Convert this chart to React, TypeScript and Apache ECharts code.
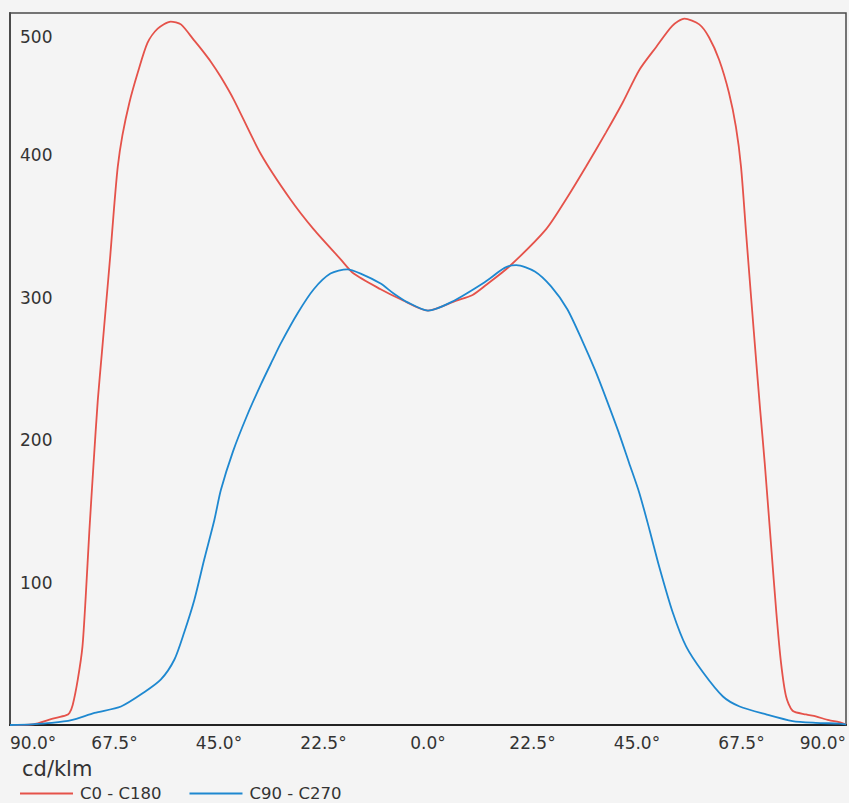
import React, { useEffect, useRef } from "react";
import * as echarts from "echarts";

// C0 - C180 (red)
const redAngles = [
  -90, -85, -81, -78, -77.2, -76.5, -75.4, -74.4, -73.7, -72.9, -72, -71.1, -70.2, -69.3, -68.4, -67.6,
  -66.8, -65.8, -64.3, -62.5, -60.4, -58.2, -55.4, -53.2, -50.4, -48.9, -46.8, -44.6, -41.8, -36, -29.6,
  -24.6, -18.8, -16, -10.2, -5.9, 0, 6.1, 9.6, 12.5, 17.5, 25.4, 29.7, 34, 38.3, 41.9, 45.5, 49.1,
  52.6, 55.2, 58.4, 60.5, 62.7, 64.8, 66.3, 67.4, 68.5, 69.6, 70.7, 71.5, 72.5, 73.9, 75, 76, 77.1,
  78.5, 81.4, 83.5, 86.3, 88.5, 90,
];
const redValues = [
  0, 0.5, 4.3, 6.7, 8.5, 14, 32, 55, 90, 137, 184, 228, 262, 296, 330, 363,
  392, 414, 437, 458, 479, 489, 494, 492, 481, 475, 466, 455, 439, 401, 369,
  348, 327, 317, 306, 299, 291, 298, 302, 309, 322, 348, 369, 392, 416, 437, 460, 476,
  491, 496, 492, 483, 467, 444, 420, 392, 345, 299, 254, 222, 184, 125, 79, 44, 20,
  10, 7.4, 6, 3.4, 2, 0.5,
];

// C90 - C270 (blue)
const blueAngles = [
  -90, -85.4, -81, -76.8, -71.8, -66.1, -61.1, -57.5, -54.6, -52.5, -50.3, -48.2, -46, -44.6, -42,
  -39, -36, -33.5, -31.7, -28.1, -24.6, -21, -17.4, -14.5, -10.2, -7.4, -4.5, 0, 5, 12.2, 16.5, 19,
  23, 26.5, 30, 33.2, 36, 38.5, 41, 43.3, 45.5, 47.7, 49.8, 52.7, 55.6, 59.2, 63.5, 67.1, 72.8, 78.5,
  83.5, 88.5, 90,
];
const blueValues = [
  0, 0.5, 1.5, 3.4, 8.5, 13, 23, 32, 46, 65, 88, 116, 144, 165, 192,
  217, 239, 256, 268, 289, 306, 317, 320, 317, 310, 303, 297, 291, 297, 311, 321, 323,
  318.5, 308, 292, 270, 249, 228, 206, 184, 163, 137, 111, 79, 55, 37, 20, 13, 7.4, 2.7,
  1.5, 1, 0.5,
];

const seriesNames = ["C0 - C180", "C90 - C270"];
const unitLabel = "cd/klm";

const zip = (a: number[], b: number[]) => a.map((x, i) => [x, b[i]]);

export default function App() {
  const ref = useRef<HTMLDivElement>(null);
  useEffect(() => {
    if (!ref.current) return;
    const chart = echarts.init(ref.current, undefined, { renderer: "svg" });
    const font = "'DejaVu Sans', Verdana, sans-serif";
    chart.setOption({
      animation: false,
      backgroundColor: "#f4f4f4",
      textStyle: { fontFamily: font },
      title: {
        text: unitLabel,
        left: 22,
        top: 758,
        padding: 0,
        textStyle: { fontFamily: font, fontSize: 21, fontWeight: "normal", color: "#333" },
      },
      legend: {
        left: 20,
        top: 785,
        padding: 0,
        icon: "rect",
        itemWidth: 53,
        itemHeight: 2,
        itemGap: 28,
        textStyle: { fontFamily: font, fontSize: 16.5, color: "#333", padding: [0, 0, 0, 2] },
        data: seriesNames,
      },
      grid: {
        left: 10,
        right: 3,
        top: 13,
        bottom: 78,
        show: true,
        backgroundColor: "#f4f4f4",
        borderColor: "#4a4a4a",
        borderWidth: 1.5,
      },
      xAxis: {
        type: "value",
        min: -90,
        max: 90,
        interval: 22.5,
        axisLine: { show: true, onZero: false, lineStyle: { color: "#222", width: 2 } },
        axisTick: { show: false },
        splitLine: { show: false },
        axisLabel: {
          fontFamily: font,
          fontSize: 17,
          color: "#333",
          margin: 9,
          alignMinLabel: "left",
          alignMaxLabel: "right",
          formatter: (v: number) => Math.abs(v).toFixed(1) + "°",
        },
      },
      yAxis: {
        type: "value",
        min: 0,
        max: 500,
        interval: 100,
        axisLine: { show: true, onZero: false, lineStyle: { color: "#4a4a4a", width: 2 } },
        axisTick: { show: false },
        splitLine: { show: false },
        axisLabel: {
          inside: true,
          showMinLabel: false,
          fontFamily: font,
          fontSize: 17,
          color: "#333",
          margin: 10,
          formatter: (v: number) => (v === 500 ? "{low|" + v + "}" : String(v)),
          rich: {
            low: { fontFamily: font, fontSize: 17, color: "#333", padding: [48, 0, 0, 0] },
          },
        },
      },
      series: [
        {
          name: seriesNames[0],
          type: "line",
          data: zip(redAngles, redValues),
          showSymbol: false,
          symbol: "none",
          smooth: 0.25,
          color: "#e5524a",
          lineStyle: { color: "#e5524a", width: 1.8 },
        },
        {
          name: seriesNames[1],
          type: "line",
          data: zip(blueAngles, blueValues),
          showSymbol: false,
          symbol: "none",
          smooth: 0.25,
          color: "#1e88d0",
          lineStyle: { color: "#1e88d0", width: 1.8 },
        },
      ],
    });
    return () => chart.dispose();
  }, []);
  return (
    <div
      ref={ref}
      style={{ position: "fixed", left: 0, top: 0, width: 849, height: 803, background: "#f4f4f4" }}
    />
  );
}
